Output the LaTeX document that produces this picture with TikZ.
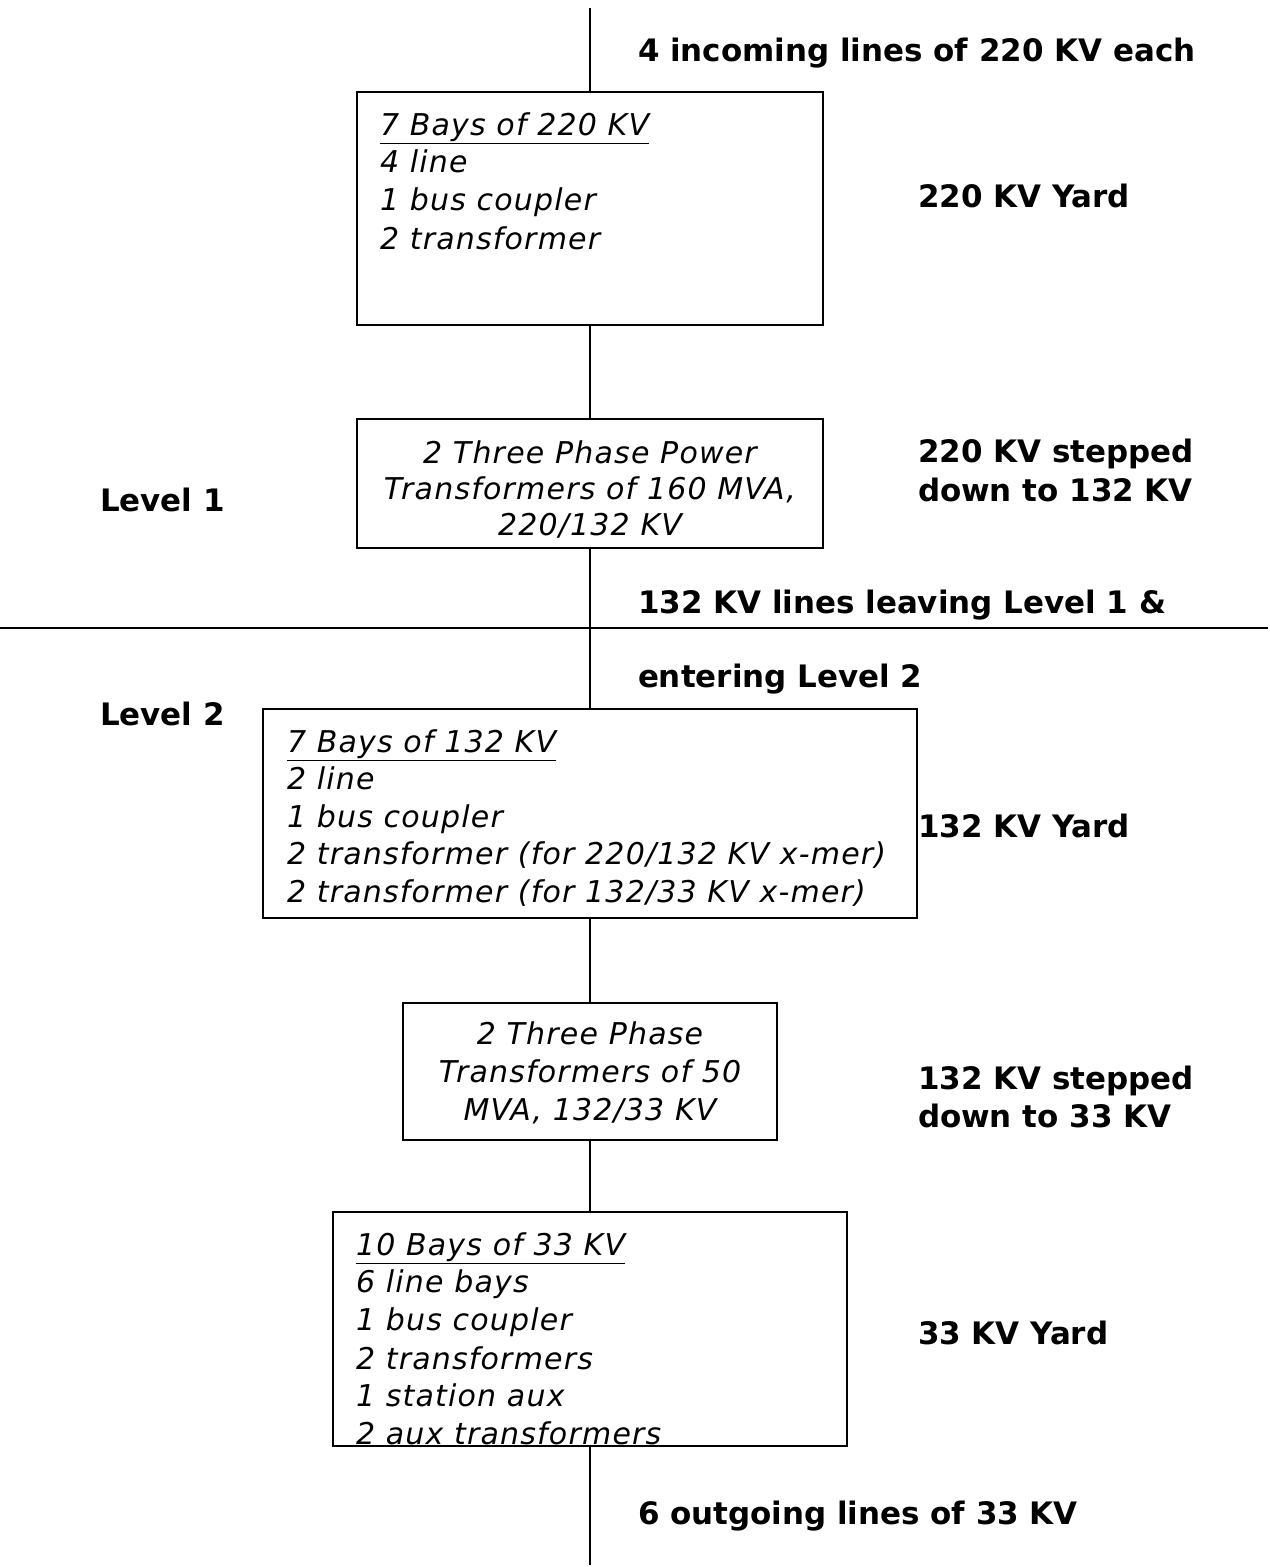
\documentclass[tikz,border=0pt]{standalone}
\usepackage{fontspec}
\setmainfont{DejaVu Sans}
\newfontfamily\boxfont{DejaVu Sans}[LetterSpace=4]
\begin{document}
\begin{tikzpicture}[x=0.75pt,y=-0.75pt,
  every node/.style={inner sep=0pt,outer sep=0pt},
  lbl/.style={anchor=base west,font=\fontsize{23.2}{28}\selectfont\bfseries},
  btxt/.style={anchor=base west,font=\boxfont\fontsize{22.5}{28}\selectfont\itshape},
  ctxt/.style={anchor=base,font=\boxfont\fontsize{22.5}{28}\selectfont\itshape},
  box/.style={draw,line width=1pt,anchor=north west},
  ln/.style={line width=1pt}]
\useasboundingbox (0,0) rectangle (1270,1567);
% boxes
\node[box,minimum width=466*0.75pt,minimum height=233*0.75pt] (b1) at (357,92) {};
\node[box,minimum width=466*0.75pt,minimum height=129*0.75pt] (b2) at (357,419) {};
\node[box,minimum width=654*0.75pt,minimum height=209*0.75pt] (b3) at (263,709) {};
\node[box,minimum width=374*0.75pt,minimum height=137*0.75pt] (b4) at (403,1003) {};
\node[box,minimum width=514*0.75pt,minimum height=234*0.75pt] (b5) at (333,1212) {};
% connectors
\coordinate (top) at (590,8);
\coordinate (bot) at (590,1565);
\coordinate (hl) at (0,628);
\coordinate (hr) at (1268,628);
\draw[ln] (top) -- (b1.north);
\draw[ln] (b1.south) -- (b2.north);
\draw[ln] (b2.south) -- (b3.north);
\draw[ln] (b3.south) -- (b4.north);
\draw[ln] (b4.south) -- (b5.north);
\draw[ln] (b5.south) -- (bot);
\draw[ln] (hl) -- (hr);
% box 1 text
\node[btxt] (t11) at (380,135) {\underline{7 Bays of 220 KV}};
\node[btxt] (t12) at (380,172) {4 line};
\node[btxt] (t13) at (380,210) {1 bus coupler};
\node[btxt] (t14) at (380,249) {2 transformer};
% box 2 text
\node[ctxt] (t21) at (590,463) {2 Three Phase Power};
\node[ctxt] (t22) at (590,499) {Transformers of 160 MVA,};
\node[ctxt] (t23) at (590,535) {220/132 KV};
% box 3 text
\node[btxt] (t31) at (287,752) {\underline{7 Bays of 132 KV}};
\node[btxt] (t32) at (287,789) {2 line};
\node[btxt] (t33) at (287,827) {1 bus coupler};
\node[btxt] (t34) at (287,864) {2 transformer (for 220/132 KV x-mer)};
\node[btxt] (t35) at (287,902) {2 transformer (for 132/33 KV x-mer)};
% box 4 text
\node[ctxt] (t41) at (590,1044) {2 Three Phase};
\node[ctxt] (t42) at (590,1082) {Transformers of 50};
\node[ctxt] (t43) at (590,1120) {MVA, 132/33 KV};
% box 5 text
\node[btxt] (t51) at (356,1255) {\underline{10 Bays of 33 KV}};
\node[btxt] (t52) at (356,1292) {6 line bays};
\node[btxt] (t53) at (356,1330) {1 bus coupler};
\node[btxt] (t54) at (356,1369) {2 transformers};
\node[btxt] (t55) at (356,1406) {1 station aux};
\node[btxt] (t56) at (356,1444) {2 aux transformers};
% labels
\node[lbl] (l1) at (638,61) {4 incoming lines of 220 KV each};
\node[lbl] (l2) at (918,207) {220 KV Yard};
\node[lbl] (l3) at (918,462) {220 KV stepped};
\node[lbl] (l4) at (918,501) {down to 132 KV};
\node[lbl] (l5) at (100,511) {Level 1};
\node[lbl] (l6) at (638,613) {132 KV lines leaving Level 1 \&};
\node[lbl] (l7) at (638,687) {entering Level 2};
\node[lbl] (l8) at (100,725) {Level 2};
\node[lbl] (l9) at (918,837) {132 KV Yard};
\node[lbl] (l10) at (918,1089) {132 KV stepped};
\node[lbl] (l11) at (918,1127) {down to 33 KV};
\node[lbl] (l12) at (918,1344) {33 KV Yard};
\node[lbl] (l13) at (638,1524) {6 outgoing lines of 33 KV};
\end{tikzpicture}
\end{document}
